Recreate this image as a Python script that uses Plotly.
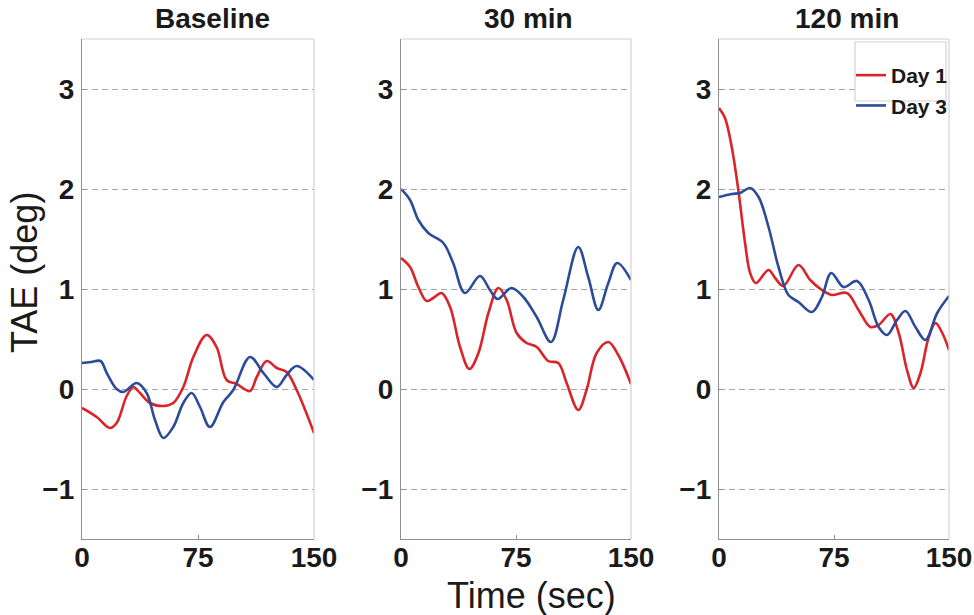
import plotly.graph_objects as go

W, H = 974, 615

panel_titles = ["Baseline", "30 min", "120 min"]
series_names = ["Day 1", "Day 3"]
series_colors = ["#d9252a", "#2c4c99"]
x_ticks = [0, 75, 150]
y_ticks = [-1, 0, 1, 2, 3]

# Baseline session
base_day1_t = [0, 9.5, 18, 22.4, 28.9, 33.2, 37.5, 44, 52.6, 59, 65.5, 72, 80.6, 87,
               93.5, 100, 108.6, 113, 119.4, 125.9, 132.3, 138.8, 150]
base_day1_v = [-0.19, -0.28, -0.39, -0.34, -0.07, 0.02, -0.04, -0.14, -0.17, -0.14, 0.02,
               0.32, 0.54, 0.42, 0.09, 0.05, -0.02, 0.12, 0.28, 0.21, 0.17, -0.01, -0.44]
base_day3_t = [0, 6, 12, 16, 22.4, 26.7, 35.4, 41.8, 47.2, 52.6, 59, 65.5, 70.9, 76.3,
               82.7, 91.4, 97.8, 108.6, 117.3, 125.9, 132.3, 138.8, 150]
base_day3_v = [0.26, 0.27, 0.28, 0.16, 0.0, -0.03, 0.06, -0.04, -0.31, -0.49, -0.38, -0.14,
               -0.04, -0.18, -0.38, -0.13, -0.01, 0.32, 0.16, 0.02, 0.14, 0.23, 0.09]

# 30 min session
m30_day1_t = [0, 5.9, 11.3, 16.7, 21, 26.5, 32, 38.5, 44.6, 50.5, 57, 63.5, 68.9, 75.4,
              81.9, 88.5, 96, 102.6, 108, 115.6, 121, 127.6, 135.2, 141.7, 150]
m30_day1_v = [1.31, 1.22, 1.02, 0.88, 0.91, 0.96, 0.82, 0.42, 0.20, 0.36, 0.76, 1.01, 0.89,
              0.56, 0.46, 0.42, 0.28, 0.26, 0.06, -0.21, -0.01, 0.36, 0.47, 0.34, 0.05]
m30_day3_t = [0, 5.9, 11.3, 17.8, 27.6, 34, 41.7, 51.5, 58, 63, 72, 79.8, 88.5, 97.8,
              105.8, 115.6, 122.1, 128.7, 135.2, 141, 150]
m30_day3_v = [2.0, 1.89, 1.69, 1.56, 1.46, 1.26, 0.96, 1.13, 0.99, 0.90, 1.01, 0.92, 0.72,
              0.47, 0.89, 1.42, 1.12, 0.79, 1.06, 1.26, 1.09]

# 120 min session
m120_day1_t = [0, 3.9, 8.3, 12.6, 17, 20.3, 24, 32.3, 36.6, 42, 51.8, 59.5, 67.1, 73.6,
               83.4, 91, 98.7, 104.1, 111.8, 117.2, 122.6, 127, 131.4, 136.8, 141.2,
               145.6, 150]
m120_day1_v = [2.81, 2.71, 2.42, 1.99, 1.46, 1.16, 1.06, 1.19, 1.11, 1.03, 1.24, 1.09, 0.99,
               0.94, 0.96, 0.79, 0.62, 0.64, 0.75, 0.56, 0.19, 0.01, 0.16, 0.52, 0.66,
               0.56, 0.39]
m120_day3_t = [0, 8.3, 13.8, 20.3, 25.8, 32.3, 38.8, 45.3, 51.8, 60.6, 67.1, 73.2, 81.2,
               90, 97.6, 104.1, 109.6, 116.1, 121.6, 128.1, 134.6, 142.3, 150]
m120_day3_v = [1.92, 1.95, 1.96, 2.01, 1.92, 1.62, 1.22, 0.94, 0.87, 0.77, 0.92, 1.16, 1.02,
               1.08, 0.89, 0.62, 0.54, 0.69, 0.78, 0.62, 0.49, 0.76, 0.93]

panels = [
    [(base_day1_t, base_day1_v), (base_day3_t, base_day3_v)],
    [(m30_day1_t, m30_day1_v), (m30_day3_t, m30_day3_v)],
    [(m120_day1_t, m120_day1_v), (m120_day3_t, m120_day3_v)],
]

FONT = "Liberation Sans, Arial, Helvetica, sans-serif"

# panel placement in pixels (left, right) and common (top, bottom)
panel_px = [(82, 314), (401, 631), (719, 949)]
top_px, bottom_px = 39, 539
title_cx = [212, 528, 847]

fig = go.Figure()

for i, series in enumerate(panels):
    ax = "" if i == 0 else str(i + 1)
    for j, (t, v) in enumerate(series):
        fig.add_trace(go.Scatter(
            x=t, y=v, mode="lines",
            line=dict(color=series_colors[j], width=2.6, shape="spline", smoothing=1.0),
            name=series_names[j],
            showlegend=(i == 2),
            xaxis="x" + ax, yaxis="y" + ax,
        ))

    left, right = panel_px[i]
    xdom = [left / W, right / W]
    ydom = [1 - bottom_px / H, 1 - top_px / H]
    axis_common = dict(
        showline=True, linecolor="#8f8f8f", linewidth=1.2,
        ticks="inside", ticklen=4, tickcolor="#8f8f8f",
        tickfont=dict(family=FONT, size=28, color="#1a1a1a", weight="bold"),
        zeroline=False, automargin=False,
    )
    fig.layout["xaxis" + ax] = dict(
        domain=xdom, range=[0, 150], tickvals=x_ticks, showgrid=False,
        anchor="y" + ax, ticklabelstandoff=-7, **axis_common,
    )
    fig.layout["yaxis" + ax] = dict(
        domain=ydom, range=[-1.5, 3.5], tickvals=y_ticks,
        showgrid=True, gridcolor="#a8a8a8", gridwidth=1, griddash="6px,4px",
        anchor="x" + ax, ticklabelstandoff=1, **axis_common,
    )

    # light top and right frame edges
    for x0, y0, x1, y1 in [(0, 1, 1, 1), (1, 0, 1, 1)]:
        fig.add_shape(type="line", xref="x" + ax + " domain", yref="y" + ax + " domain",
                      x0=x0, y0=y0, x1=x1, y1=y1,
                      line=dict(color="#d2d2d2", width=1.2), layer="above")

    fig.add_annotation(text="<b>" + panel_titles[i] + "</b>", xref="paper", yref="paper",
                       x=title_cx[i] / W, y=1 - 18 / H, showarrow=False,
                       font=dict(family=FONT, size=28, color="#1a1a1a"),
                       xanchor="center", yanchor="middle")

# axis titles
fig.add_annotation(text="Time (sec)", xref="paper", yref="paper",
                   x=531 / W, y=1 - 595 / H, showarrow=False,
                   font=dict(family=FONT, size=36, color="#1a1a1a"),
                   xanchor="center", yanchor="middle")
fig.add_annotation(text="TAE (deg)", xref="paper", yref="paper",
                   x=25 / W, y=1 - 273 / H, showarrow=False, textangle=-90,
                   font=dict(family=FONT, size=36, color="#1a1a1a"),
                   xanchor="center", yanchor="middle")

# legend frame
fig.add_shape(type="rect", xref="paper", yref="paper",
              x0=855 / W, x1=946 / W, y0=1 - 101 / H, y1=1 - 42 / H,
              fillcolor="white", line=dict(color="#d2d2d2", width=1.2), layer="above")

fig.update_layout(
    width=W, height=H,
    margin=dict(l=0, r=0, t=0, b=0, autoexpand=False),
    paper_bgcolor="white", plot_bgcolor="white",
    font=dict(family=FONT, color="#1a1a1a"),
    legend=dict(
        x=851 / W, y=1 - 55 / H, xanchor="left", yanchor="top",
        bgcolor="rgba(0,0,0,0)", borderwidth=0,
        font=dict(family=FONT, size=21, color="#1a1a1a", weight="bold"),
        tracegroupgap=0, itemwidth=30,
    ),
)

fig.write_html("out.html")
